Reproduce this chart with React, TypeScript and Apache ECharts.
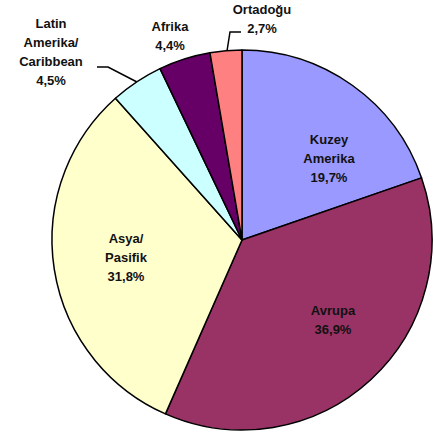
import React, { useEffect, useRef } from "react";
import * as echarts from "echarts";

const regions = ["Kuzey\nAmerika", "Avrupa", "Asya/\nPasifik", "Latin\nAmerika/\nCaribbean", "Afrika", "Ortadoğu"];
const shares = [19.7, 36.9, 31.8, 4.5, 4.4, 2.7];
const colors = ["#9999FF", "#993366", "#FFFFCC", "#CCFFFF", "#660066", "#FF8080"];

// label anchor positions (layout only)
const labelPos: [number, number][] = [
  [329, 158],
  [333, 320],
  [126, 257],
  [51, 52],
  [170, 36],
  [262, 19],
];
const labelLines: ([number, number][] | null)[] = [
  null,
  null,
  null,
  [[137, 82], [108, 67], [97, 67]],
  null,
  [[227, 51], [230, 32], [241, 32]],
];

export default function App() {
  const ref = useRef<HTMLDivElement>(null);
  useEffect(() => {
    if (!ref.current) return;
    const chart = echarts.init(ref.current, null, { renderer: "svg" });
    chart.setOption({
      animation: false,
      backgroundColor: "#ffffff",
      series: [
        {
          type: "pie",
          center: [242, 240],
          radius: 190,
          startAngle: 90,
          clockwise: true,
          avoidLabelOverlap: false,
          itemStyle: { borderColor: "#000", borderWidth: 1.5 },
          label: {
            show: true,
            formatter: (p: any) => `${p.name}\n${String(p.value).replace(".", ",")}%`,
            fontFamily: "Liberation Sans, Arial, sans-serif",
            fontWeight: "bold",
            fontSize: 13,
            lineHeight: 19,
            color: "#111",
            align: "center",
          },
          labelLine: { show: true, lineStyle: { color: "#000", width: 1.5 } },
          labelLayout: (params: any) => {
            const i = params.dataIndex;
            const res: any = {
              x: labelPos[i][0],
              y: labelPos[i][1],
              align: "center",
              verticalAlign: "middle",
            };
            if (labelLines[i]) res.labelLinePoints = labelLines[i];
            return res;
          },
          data: regions.map((name, i) => ({
            name,
            value: shares[i],
            itemStyle: { color: colors[i] },
            labelLine: { show: labelLines[i] !== null },
          })),
        },
      ],
    });
    return () => chart.dispose();
  }, []);
  return (
    <div
      ref={ref}
      style={{ position: "absolute", left: 0, top: 0, width: 435, height: 435 }}
    />
  );
}
